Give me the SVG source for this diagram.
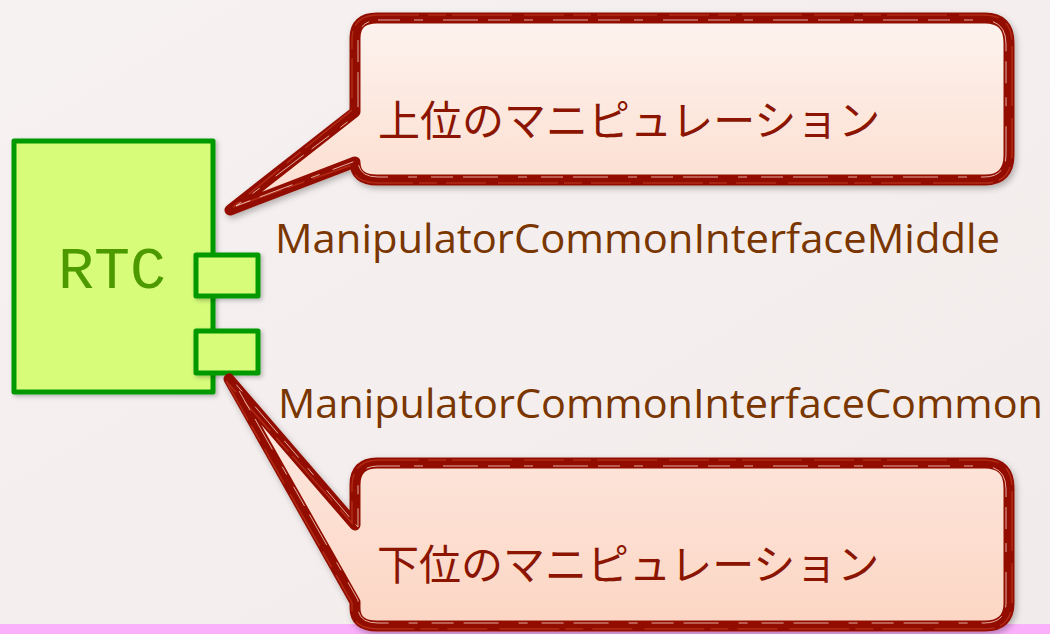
<svg xmlns="http://www.w3.org/2000/svg" width="1050" height="634" viewBox="0 0 1050 634">
<defs>
  <linearGradient id="bg" x1="0" y1="0" x2="1" y2="1">
    <stop offset="0" stop-color="#f6f2f1"/>
    <stop offset="1" stop-color="#f2ebeb"/>
  </linearGradient>
  <linearGradient id="callFill1" x1="0" y1="0" x2="0" y2="1">
    <stop offset="0" stop-color="#fdf3ef"/>
    <stop offset="1" stop-color="#fcdccd"/>
  </linearGradient>
  <linearGradient id="callFill2" x1="0" y1="0" x2="0" y2="1">
    <stop offset="0" stop-color="#fdebe4"/>
    <stop offset="1" stop-color="#fcd6c4"/>
  </linearGradient>
  <filter id="shadow" x="-10%" y="-10%" width="120%" height="130%">
    <feDropShadow dx="2" dy="3" stdDeviation="3" flood-color="#000" flood-opacity="0.28"/>
  </filter>
  <filter id="shadowSmall" x="-10%" y="-10%" width="130%" height="130%">
    <feDropShadow dx="2" dy="2" stdDeviation="2" flood-color="#000" flood-opacity="0.25"/>
  </filter>
</defs>
<style>
  .comp { fill: #d6fc7a; stroke: #009a00; stroke-width: 5; stroke-linejoin: round; }
  .rtc { font-family: "Liberation Mono", "DejaVu Sans Mono", monospace; font-size: 60px; fill: #4d9a00; }
  .call { stroke: #921000; stroke-width: 11; stroke-linejoin: round; }
  .sk1 { fill: none; stroke: #b8321c; stroke-width: 1.5; stroke-dasharray: 40 9 18 6 60 12; opacity: 0.8; }
  .sk2 { fill: none; stroke: #ffe1d6; stroke-width: 1; stroke-dasharray: 22 14 9 20 35 10; opacity: 0.75; }
  .jp { font-family: "Noto Sans CJK JP", "Noto Sans CJK SC", sans-serif; font-size: 42px; fill: #8b1500; }
  .if { font-family: "Open Sans", "Liberation Sans", sans-serif; font-size: 41px; fill: #7a3600; }
</style>
<rect x="0" y="0" width="1050" height="634" fill="url(#bg)"/>
<rect x="0" y="624" width="1050" height="10" fill="#fbb0fb"/>

<g id="rtc" filter="url(#shadowSmall)">
  <rect class="comp" x="14" y="141" width="199" height="251"/>
  <text class="rtc" x="58" y="288">RTC</text>
</g>
<g id="port-middle" filter="url(#shadowSmall)">
  <rect class="comp" x="196" y="255" width="62" height="41"/>
</g>
<g id="port-common" filter="url(#shadowSmall)">
  <rect class="comp" x="196" y="331" width="62" height="42"/>
</g>

<g id="connectors"></g>

<g id="callout-upper">
  <path class="call" fill="url(#callFill1)" filter="url(#shadow)" d="M 377,18 H 985 Q 1009,18 1009,43 V 155 Q 1009,180 985,180 H 377 Q 355,180 355,162 L 230,210 L 355,112 V 38 Q 355,18 377,18 Z"/>
  <path class="sk1" d="M 379,15 H 985 Q 1012,16 1012,43 V 155 Q 1011,183 985,183 H 377 Q 352,182 352,165 L 233,207 L 352,110 V 38 Q 353,15 379,15"/>
  <path class="sk2" d="M 378,20 H 984 Q 1006,21 1006,44 V 154 Q 1006,177 984,177 H 378 Q 358,177 358,160 L 236,206 L 358,114 V 40 Q 358,21 378,20"/>
  <text class="jp" x="378" y="136">上位のマニピュレーション</text>
</g>

<g id="callout-lower">
  <path class="call" fill="url(#callFill2)" filter="url(#shadow)" d="M 377,463 H 985 Q 1009,463 1009,488 V 603 Q 1009,626 985,626 H 377 Q 355,626 355,608 V 602 L 229,379 L 355,525 V 485 Q 355,463 377,463 Z"/>
  <path class="sk1" d="M 379,460 H 985 Q 1012,461 1012,488 V 603 Q 1011,629 985,629 H 377 Q 352,628 352,610 V 603 L 226,381 L 352,523 V 485 Q 353,460 379,460"/>
  <path class="sk2" d="M 378,466 H 984 Q 1006,467 1006,489 V 602 Q 1006,623 984,623 H 378 Q 358,623 358,607 V 600 L 234,382 L 358,527 V 486 Q 358,466 378,466"/>
  <text class="jp" x="377" y="580">下位のマニピュレーション</text>
</g>

<g id="labels">
  <text class="if" x="275" y="253" textLength="725" lengthAdjust="spacingAndGlyphs">ManipulatorCommonInterfaceMiddle</text>
  <text class="if" x="278" y="418" textLength="765" lengthAdjust="spacingAndGlyphs">ManipulatorCommonInterfaceCommon</text>
</g>
</svg>
